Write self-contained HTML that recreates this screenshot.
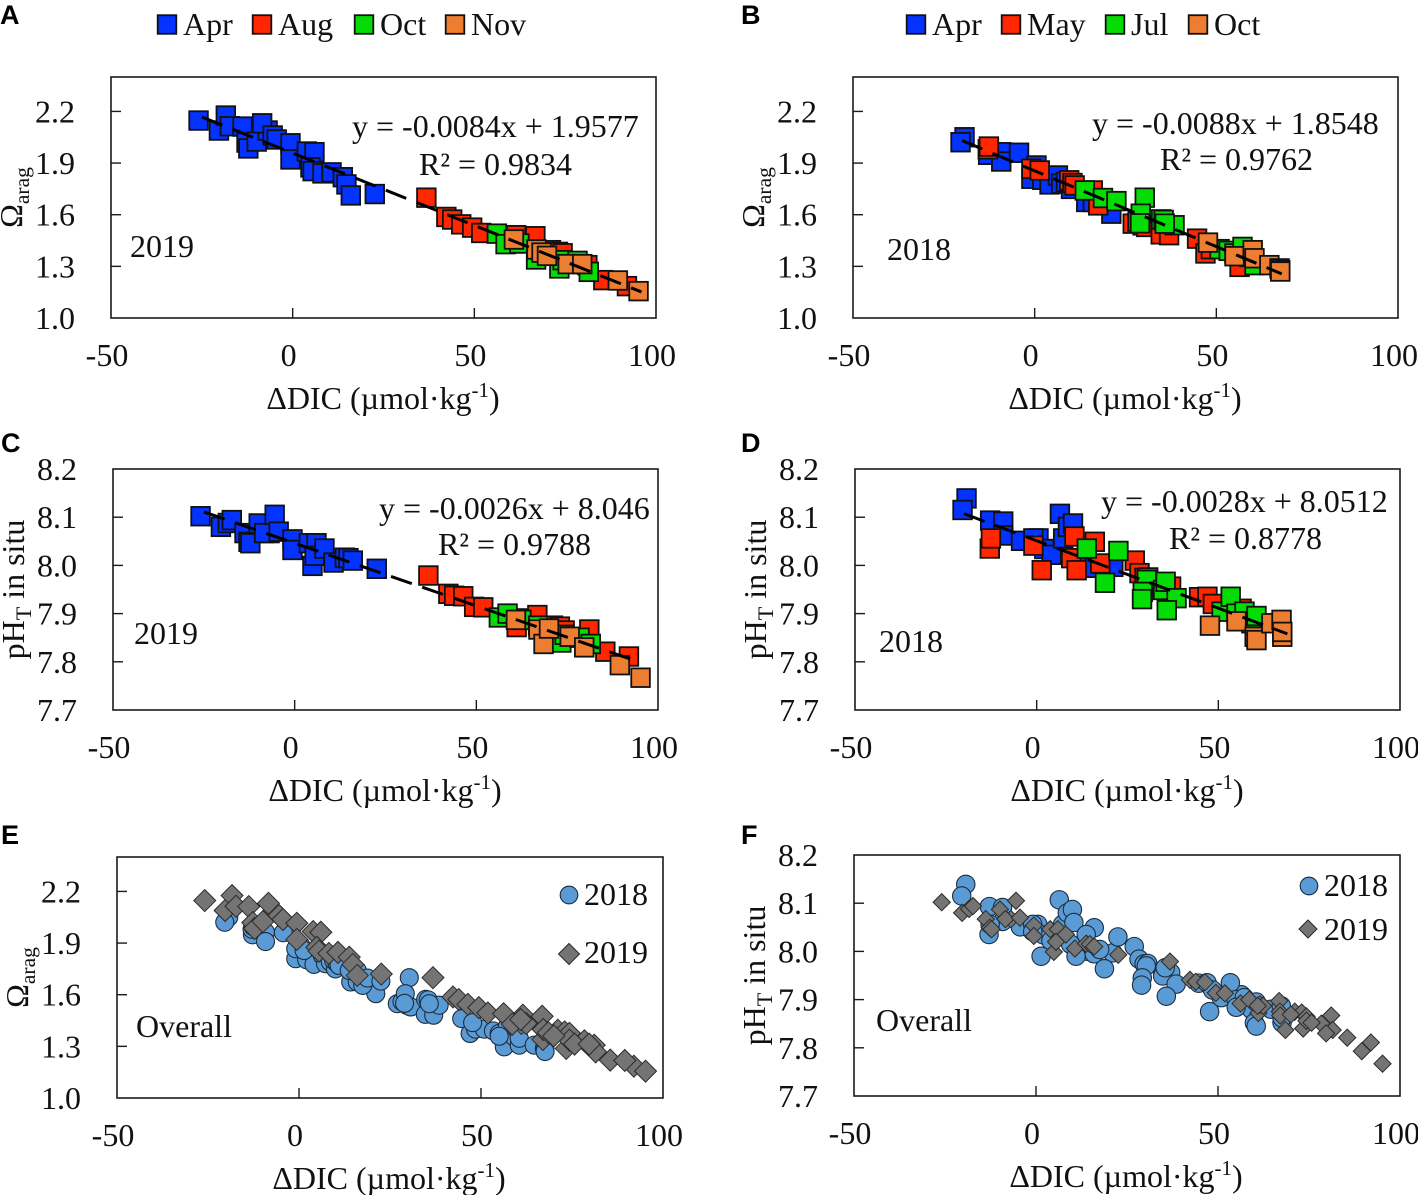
<!DOCTYPE html>
<html lang="en">
<head>
<meta charset="utf-8">
<title>Carbonate chemistry versus ΔDIC</title>
<style>
html,body{margin:0;padding:0;background:#fff;}
#figure{display:block;width:1418px;height:1195px;}
text{font-family:"Liberation Serif","DejaVu Serif",serif;font-size:32px;fill:#111;}
.letter{font-family:"Liberation Sans","DejaVu Sans",sans-serif;font-weight:bold;font-size:27px;fill:#000;}
</style>
</head>
<body>
<svg id="figure" xmlns="http://www.w3.org/2000/svg" width="1418" height="1195" viewBox="0 0 1418 1195"></svg>
<script>
// ---------- Tick labels ----------
const dicTicks = [-50, 0, 50, 100];
const omegaTicks = ['1.0', '1.3', '1.6', '1.9', '2.2'];
const phTicks = ['7.7', '7.8', '7.9', '8.0', '8.1', '8.2'];

// ---------- 2019 series ----------
const apr2019Dic = [-25.9,-20.3,-18.4,-17.3,-13.8,-12.7,-12.2,-9.9,-6.9,-8.4,-5.5,-4.4,-0.6,-0.6,3.9,6,4.9,5.5,8.2,10.7,13.8,14.8,16,22.6];
const apr2019Omega = [2.147,2.089,2.176,2.114,2.112,2.019,1.985,2.025,2.089,2.131,2.06,2.037,2.015,1.921,1.967,1.963,1.875,1.853,1.84,1.846,1.818,1.776,1.712,1.72];
const apr2019Ph = [8.102,8.08,8.088,8.094,8.067,8.049,8.046,8.087,8.067,8.067,8.105,8.07,8.054,8.032,8.046,8.046,7.999,8.02,8.035,8.006,8.016,8.015,8.01,7.993];

const aug2019Dic = [36.8,42.3,43.9,46.4,49.4,51.9,61.1,61.5,66.8,71.1,73,74.3,81.1,85.5,92];
const aug2019Omega = [1.699,1.587,1.572,1.544,1.525,1.494,1.433,1.481,1.475,1.394,1.384,1.376,1.307,1.22,1.185];
const aug2019Ph = [7.979,7.941,7.937,7.936,7.914,7.913,7.872,7.89,7.897,7.875,7.873,7.865,7.867,7.821,7.811];

const oct2019Dic = [56.2,58.6,62.4,67,73.4,74.3,78.4,81.5];
const oct2019Omega = [1.49,1.429,1.433,1.34,1.288,1.336,1.332,1.268];
const oct2019Ph = [7.892,7.9,7.887,7.875,7.84,7.856,7.85,7.837];

const nov2019Dic = [60.9,67.1,68.5,70,75.7,79.7,89.5,95.2];
const nov2019Omega = [1.456,1.398,1.38,1.361,1.313,1.313,1.218,1.156];
const nov2019Ph = [7.887,7.867,7.837,7.869,7.852,7.83,7.793,7.767];

// ---------- 2018 series ----------
const apr2018Dic = [-19.3,-20.4,-12.8,-9.2,-9.2,-4.3,0.5,-0.9,2.1,4.1,6.4,7.3,8.6,10,14.2,16,21.1];
const apr2018Omega = [2.05,2.021,1.948,1.963,1.909,1.96,1.886,1.809,1.803,1.776,1.828,1.78,1.79,1.75,1.674,1.674,1.606];
const apr2018Ph = [8.139,8.115,8.093,8.091,8.062,8.051,8.056,8.056,8.034,8.022,8.107,8.056,8.08,8.087,8.0,7.995,7.997];

const may2018Dic = [-12.9,-12.6,-0.9,1.4,9.5,10.4,11,16,17.5,27,28.3,29.7,30.7,34.7,37,44.7,47,48.5,56.4];
const may2018Omega = [1.98,1.996,1.867,1.857,1.8,1.784,1.77,1.741,1.654,1.548,1.56,1.538,1.529,1.486,1.481,1.461,1.375,1.4,1.297];
const may2018Ph = [8.035,8.056,8.041,7.99,8.015,8.06,7.99,8.049,8.004,8.01,7.984,7.974,7.975,7.96,7.956,7.934,7.935,7.92,7.91];

const jul2018Dic = [13.8,18.8,22.5,30.3,29.2,29,34.8,35.5,38.5,35.8,50.9,53.4,55,57.2,59.1,60.5];
const jul2018Omega = [1.741,1.697,1.679,1.699,1.606,1.55,1.573,1.57,1.539,1.548,1.4,1.39,1.375,1.413,1.355,1.307];
const jul2018Ph = [8.035,7.964,8.03,7.97,7.945,7.93,7.949,7.966,7.932,7.907,7.904,7.935,7.9,7.904,7.88,7.895];

const oct2018Dic = [47.7,55,60,60.5,64.6,67.4,67.6,67.6];
const oct2018Omega = [1.438,1.359,1.394,1.347,1.307,1.288,1.278,1.27];
const oct2018Ph = [7.875,7.884,7.852,7.845,7.88,7.887,7.852,7.862];

// ---------- Fit lines: slope, intercept, start, end ----------
const fitA = [-0.0084, 1.9577, -25, 96];
const fitB = [-0.0088, 1.8548, -20, 68];
const fitC = [-0.0026, 8.046, -25, 95];
const fitD = [-0.0028, 8.0512, -20, 69];

// ---------- Colours ----------
const BLUE = '#0432FF', RED = '#FF2600', GREEN = '#05DC05', ORANGE = '#ED7D31', CIRCLE = '#5B9BD5', DIAMOND = '#747474';
const NS = 'http://www.w3.org/2000/svg';
const svg = document.getElementById('figure');

// ---------- Helpers ----------
function addText(parent, str, x, y, anchor, cls) {
  const t = document.createElementNS(NS, 'text');
  t.setAttribute('x', x);
  t.setAttribute('y', y);
  if (anchor) t.setAttribute('text-anchor', anchor);
  if (cls) t.setAttribute('class', cls);
  t.textContent = str;
  parent.appendChild(t);
  return t;
}
function addTspan(parent, str, size, dy) {
  const s = document.createElementNS(NS, 'tspan');
  if (size) s.setAttribute('font-size', size);
  if (size) s.setAttribute('style', 'font-size:' + size + 'px');
  if (dy) s.setAttribute('dy', dy);
  s.textContent = str;
  parent.appendChild(s);
  return s;
}
function addGroup(parent, name) {
  const g = document.createElementNS(NS, 'g');
  
  
  parent.appendChild(g);
  return g;
}
function square(parent, cx, cy, fill) {
  const r = document.createElementNS(NS, 'rect');
  r.setAttribute('x', cx - 9.3);
  r.setAttribute('y', cy - 9.3);
  r.setAttribute('width', 18.6);
  r.setAttribute('height', 18.6);
  r.setAttribute('fill', fill);
  r.setAttribute('stroke', '#111');
  r.setAttribute('stroke-width', 1.8);
  
  
  parent.appendChild(r);
}
function circle(parent, cx, cy, rad) {
  const c = document.createElementNS(NS, 'circle');
  c.setAttribute('cx', cx);
  c.setAttribute('cy', cy);
  c.setAttribute('r', rad);
  c.setAttribute('fill', CIRCLE);
  c.setAttribute('stroke', '#1c2c3c');
  c.setAttribute('stroke-width', 1.1);
  
  
  parent.appendChild(c);
}
function diamond(parent, cx, cy, rad) {
  const d = document.createElementNS(NS, 'polygon');
  d.setAttribute('points', [cx - rad, cy, cx, cy - rad, cx + rad, cy, cx, cy + rad].join(' '));
  d.setAttribute('fill', DIAMOND);
  d.setAttribute('stroke', '#2a2a2a');
  d.setAttribute('stroke-width', 1);
  
  
  parent.appendChild(d);
}
function makeAxes(name, left, top, yMin, yMax, yTicks, width) {
  const w = width || 545, h = 241;
  const x = v => left + (v - dicTicks[0]) / (dicTicks[3] - dicTicks[0]) * w;
  const y = v => top + h - (v - yMin) / (yMax - yMin) * h;
  const g = addGroup(svg, name);
  const frame = document.createElementNS(NS, 'rect');
  frame.setAttribute('x', left);
  frame.setAttribute('y', top);
  frame.setAttribute('width', w);
  frame.setAttribute('height', h);
  frame.setAttribute('fill', 'none');
  frame.setAttribute('stroke', '#1a1a1a');
  frame.setAttribute('stroke-width', 1.6);
  
  
  g.appendChild(frame);
  const xAxis = addGroup(g, 'x-axis');
  dicTicks.forEach(v => {
    if (v > dicTicks[0] && v < dicTicks[3]) {
      const l = document.createElementNS(NS, 'line');
      l.setAttribute('x1', x(v));
      l.setAttribute('x2', x(v));
      l.setAttribute('y1', top + h);
      l.setAttribute('y2', top + h - 10);
      l.setAttribute('stroke', '#1a1a1a');
      l.setAttribute('stroke-width', 1.4);
      xAxis.appendChild(l);
    }
    const t = addText(xAxis, String(v), x(v) - 4, top + h + 48, 'middle');
    
    
  });
  const yAxis = addGroup(g, 'y-axis');
  yTicks.forEach(s => {
    const v = parseFloat(s);
    if (v > yMin && v < yMax) {
      const l = document.createElementNS(NS, 'line');
      l.setAttribute('x1', left);
      l.setAttribute('x2', left + 10);
      l.setAttribute('y1', y(v));
      l.setAttribute('y2', y(v));
      l.setAttribute('stroke', '#1a1a1a');
      l.setAttribute('stroke-width', 1.4);
      yAxis.appendChild(l);
    }
    const t = addText(yAxis, s, left - 36, y(v) + 11, 'end');
    
    
  });
  const xTitle = addText(g, 'ΔDIC (µmol·kg', left + 272, top + h + 91, 'middle');
  
  
  addTspan(xTitle, '-1', 21, -12);
  addTspan(xTitle, ')', null, 12);
  return { g: g, x: x, y: y, left: left, top: top, h: h };
}
function omegaTitle(ax) {
  const cx = ax.left - 89, cy = ax.top + 120.5;
  const t = addText(ax.g, 'Ω', cx, cy, 'middle');
  t.setAttribute('transform', 'rotate(-90 ' + cx + ' ' + cy + ')');
  
  
  addTspan(t, 'arag', 21.5, 7);
}
function phTitle(ax) {
  const cx = ax.left - 89, cy = ax.top + 120.5;
  const t = addText(ax.g, 'pH', cx, cy, 'middle');
  t.setAttribute('transform', 'rotate(-90 ' + cx + ' ' + cy + ')');
  
  
  addTspan(t, 'T', 22, 7);
  addTspan(t, ' in situ', null, -7);
}
function drawSquares(ax, xs, ys, fill, name) {
  const g = addGroup(ax.g, name);
  xs.forEach((v, i) => square(g, ax.x(v), ax.y(ys[i]), fill));
}
function drawFit(ax, fit) {
  const l = document.createElementNS(NS, 'line');
  l.setAttribute('x1', ax.x(fit[2]));
  l.setAttribute('y1', ax.y(fit[0] * fit[2] + fit[1]));
  l.setAttribute('x2', ax.x(fit[3]));
  l.setAttribute('y2', ax.y(fit[0] * fit[3] + fit[1]));
  l.setAttribute('stroke', '#000');
  l.setAttribute('stroke-width', 3);
  l.setAttribute('stroke-dasharray', '22 11');
  
  
  ax.g.appendChild(l);
}
function note(parent, str, x, y, name) {
  const t = addText(parent, str, x, y);
  
  
}
function letter(str, x, y) {
  const t = addText(svg, str, x, y, null, 'letter');
  
  
}
function legendEntry(x, fill, label) {
  const g = addGroup(svg, 'legend-entry-' + label.toLowerCase());
  square(g, x + 10, 24.5, fill);
  const t = addText(g, label, x + 26, 35);
  
  
}

// ---------- Panel A ----------
const axA = makeAxes('panel-a', 111, 77, 1.0, 2.4, omegaTicks);
omegaTitle(axA);
drawSquares(axA, apr2019Dic, apr2019Omega, BLUE, 'series-apr-2019');
drawSquares(axA, aug2019Dic, aug2019Omega, RED, 'series-aug-2019');
drawSquares(axA, oct2019Dic, oct2019Omega, GREEN, 'series-oct-2019');
drawSquares(axA, nov2019Dic, nov2019Omega, ORANGE, 'series-nov-2019');
drawFit(axA, fitA);
note(axA.g, 'y = -0.0084x + 1.9577', 352, 137, 'trend-equation');
note(axA.g, 'R² = 0.9834', 419, 175, 'r-squared');
note(axA.g, '2019', 130, 257, 'year-label');

// ---------- Panel B ----------
const axB = makeAxes('panel-b', 853, 77, 1.0, 2.4, omegaTicks);
omegaTitle(axB);
drawSquares(axB, apr2018Dic, apr2018Omega, BLUE, 'series-apr-2018');
drawSquares(axB, may2018Dic, may2018Omega, RED, 'series-may-2018');
drawSquares(axB, jul2018Dic, jul2018Omega, GREEN, 'series-jul-2018');
drawSquares(axB, oct2018Dic, oct2018Omega, ORANGE, 'series-oct-2018');
drawFit(axB, fitB);
note(axB.g, 'y = -0.0088x + 1.8548', 1092, 134, 'trend-equation');
note(axB.g, 'R² = 0.9762', 1160, 170, 'r-squared');
note(axB.g, '2018', 887, 260, 'year-label');

// ---------- Panel C ----------
const axC = makeAxes('panel-c', 113, 469, 7.7, 8.2, phTicks);
phTitle(axC);
drawSquares(axC, apr2019Dic, apr2019Ph, BLUE, 'series-apr-2019');
drawSquares(axC, aug2019Dic, aug2019Ph, RED, 'series-aug-2019');
drawSquares(axC, oct2019Dic, oct2019Ph, GREEN, 'series-oct-2019');
drawSquares(axC, nov2019Dic, nov2019Ph, ORANGE, 'series-nov-2019');
drawFit(axC, fitC);
note(axC.g, 'y = -0.0026x + 8.046', 379, 519, 'trend-equation');
note(axC.g, 'R² = 0.9788', 438, 555, 'r-squared');
note(axC.g, '2019', 134, 644, 'year-label');

// ---------- Panel D ----------
const axD = makeAxes('panel-d', 855, 469, 7.7, 8.2, phTicks);
phTitle(axD);
drawSquares(axD, apr2018Dic, apr2018Ph, BLUE, 'series-apr-2018');
drawSquares(axD, may2018Dic, may2018Ph, RED, 'series-may-2018');
drawSquares(axD, jul2018Dic, jul2018Ph, GREEN, 'series-jul-2018');
drawSquares(axD, oct2018Dic, oct2018Ph, ORANGE, 'series-oct-2018');
drawFit(axD, fitD);
note(axD.g, 'y = -0.0028x + 8.0512', 1101, 512, 'trend-equation');
note(axD.g, 'R² = 0.8778', 1169, 549, 'r-squared');
note(axD.g, '2018', 879, 652, 'year-label');

// ---------- Panels E and F (combined years) ----------
const dic2018 = [apr2018Dic, may2018Dic, jul2018Dic, oct2018Dic];
const omega2018 = [apr2018Omega, may2018Omega, jul2018Omega, oct2018Omega];
const ph2018 = [apr2018Ph, may2018Ph, jul2018Ph, oct2018Ph];
const dic2019 = [apr2019Dic, aug2019Dic, oct2019Dic, nov2019Dic];
const omega2019 = [apr2019Omega, aug2019Omega, oct2019Omega, nov2019Omega];
const ph2019 = [apr2019Ph, aug2019Ph, oct2019Ph, nov2019Ph];

function drawOverall(ax, yLists2018, yLists2019, circleR, diamondR) {
  const g18 = addGroup(ax.g, 'series-2018');
  dic2018.forEach((xs, k) => xs.forEach((v, i) => circle(g18, ax.x(v), ax.y(yLists2018[k][i]), circleR)));
  const g19 = addGroup(ax.g, 'series-2019');
  dic2019.forEach((xs, k) => xs.forEach((v, i) => diamond(g19, ax.x(v), ax.y(yLists2019[k][i]), diamondR)));
}

const axE = makeAxes('panel-e', 117, 857, 1.0, 2.4, omegaTicks, 546);
omegaTitle(axE);
drawOverall(axE, omega2018, omega2019, 9, 11);
note(axE.g, 'Overall', 136, 1037, 'overall-label');
const legE18 = addGroup(axE.g, 'legend-entry-2018');
circle(legE18, 569, 895, 8.8);
note(legE18, '2018', 584, 905, 'legend-label');
const legE19 = addGroup(axE.g, 'legend-entry-2019');
diamond(legE19, 569, 954, 10.5);
note(legE19, '2019', 584, 963, 'legend-label');

const axF = makeAxes('panel-f', 854, 855, 7.7, 8.2, phTicks, 546);
phTitle(axF);
drawOverall(axF, ph2018, ph2019, 9.2, 8.6);
note(axF.g, 'Overall', 876, 1031, 'overall-label');
const legF18 = addGroup(axF.g, 'legend-entry-2018');
circle(legF18, 1309, 886, 8.8);
note(legF18, '2018', 1324, 896, 'legend-label');
const legF19 = addGroup(axF.g, 'legend-entry-2019');
diamond(legF19, 1308, 929, 9);
note(legF19, '2019', 1324, 940, 'legend-label');

// ---------- Legends and panel letters ----------
legendEntry(157, BLUE, 'Apr');
legendEntry(252, RED, 'Aug');
legendEntry(354, GREEN, 'Oct');
legendEntry(445, ORANGE, 'Nov');
legendEntry(906, BLUE, 'Apr');
legendEntry(1001, RED, 'May');
legendEntry(1105, GREEN, 'Jul');
legendEntry(1188, ORANGE, 'Oct');

letter('A', 0, 24);
letter('B', 741, 24);
letter('C', 1, 452);
letter('D', 741, 452);
letter('E', 1, 844);
letter('F', 741, 844);
</script>
</body>
</html>
